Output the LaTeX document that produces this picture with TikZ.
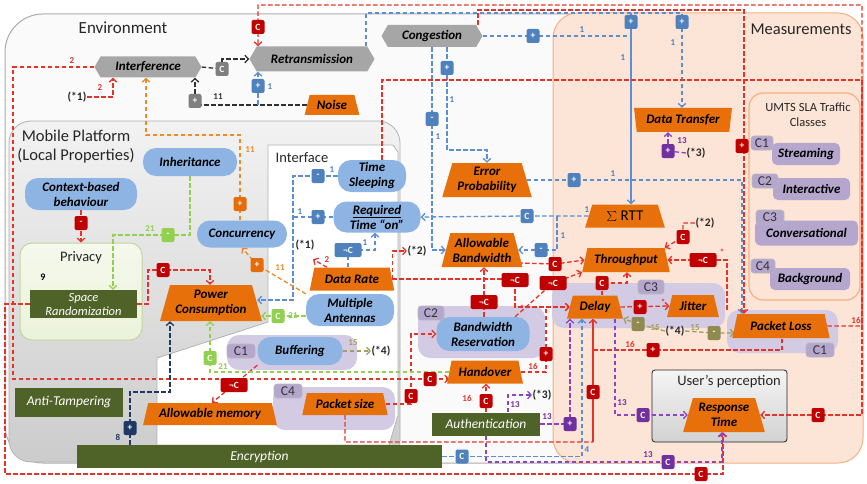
\documentclass[tikz,border=0pt]{standalone}
\usepackage{fontspec}
\setmainfont{Carlito}
\usetikzlibrary{shapes.geometric,shapes.symbols,arrows.meta,calc}
\definecolor{orN}{HTML}{E8700A}
\definecolor{blN}{HTML}{8DB4E2}
\definecolor{grN}{HTML}{A6A6A6}
\definecolor{dgN}{HTML}{4F6228}
\definecolor{lavB}{HTML}{D3CBE3}
\definecolor{lavT}{HTML}{B4A6CC}
\definecolor{msF}{HTML}{FCE4D6}
\definecolor{msD}{HTML}{F4B183}
\definecolor{lnR}{HTML}{E5332A}
\definecolor{tgR}{HTML}{C00000}
\definecolor{lnB}{HTML}{5B8ED2}
\definecolor{tgB}{HTML}{4F81BD}
\definecolor{lnO}{HTML}{F08A24}
\definecolor{tgO}{HTML}{E46C0A}
\definecolor{lnG}{HTML}{92D050}
\definecolor{lnP}{HTML}{8A44C4}
\definecolor{tgP}{HTML}{7030A0}
\definecolor{lnN}{HTML}{1F3864}
\definecolor{lnOl}{HTML}{A39D5E}
\definecolor{tgOl}{HTML}{8F8A50}
\definecolor{lnK}{HTML}{303030}
\definecolor{tgK}{HTML}{7F7F7F}
\definecolor{prF}{HTML}{EBF2DA}
\definecolor{prD}{HTML}{C3D69B}
\pgfdeclarelayer{bg}
\pgfdeclarelayer{edges}
\pgfsetlayers{bg,edges,main}
\tikzset{
  nb/.style={font=\bfseries\itshape\fontsize{13}{15}\selectfont, align=center, inner sep=1pt, text=black},
  sz/.style 2 args={minimum width=#1pt, minimum height=#2pt},
  onode/.style={nb, trapezium, trapezium stretches=true, trapezium left angle=72, trapezium right angle=72, fill=orN},
  bnode/.style={nb, rectangle, rounded corners=13pt, fill=blN},
  gnode/.style={nb, signal, signal to=east and west, signal pointer angle=120, fill=grN},
  dnode/.style={font=\itshape\fontsize{13.5}{14.5}\selectfont, align=center, inner sep=1pt, fill=dgN, text=white},
  tagb/.style={rectangle, rounded corners=2pt, minimum width=13pt, minimum height=14pt, inner sep=0pt, font=\bfseries\fontsize{9.5}{9.5}\selectfont, text=white},
  tR/.style={tagb, fill=tgR}, tB/.style={tagb, fill=tgB}, tK/.style={tagb, fill=tgK},
  tO/.style={tagb, fill=tgO}, tG/.style={tagb, fill=lnG}, tN/.style={tagb, fill=lnN},
  tP/.style={tagb, fill=tgP}, tOl/.style={tagb, fill=tgOl},
  wd/.style={minimum width=27pt},
  ltag/.style={rectangle, rounded corners=3pt, fill=lavT, draw=gray!55, line width=0.6pt, font=\fontsize{13.5}{13.5}\selectfont, text=black!80, inner sep=1pt, minimum height=14pt},
  lav/.style={rectangle, rounded corners=12pt, fill=lavB, inner sep=0pt},
  item/.style={nb, rectangle, rounded corners=5pt, fill=lavT},
  lab/.style={font=\bfseries\fontsize{9}{9}\selectfont, inner sep=0.3pt},
  stl/.style={font=\bfseries\fontsize{11.5}{11.5}\selectfont, inner sep=0.5pt, text=black!85},
  ttl/.style={font=\fontsize{17}{19}\selectfont, text=black!85, align=center},
  ed/.style={line width=1.3pt, dash pattern=on 4.5pt off 2.5pt},
  ar/.style={-{Straight Barb[length=3.5pt,width=7.5pt]}},
  eR/.style={ed, draw=lnR}, eB/.style={ed, draw=lnB}, eO/.style={ed, draw=lnO},
  eG/.style={ed, draw=lnG}, eP/.style={ed, draw=lnP}, eN/.style={ed, draw=lnN},
  eOl/.style={ed, draw=lnOl}, eK/.style={ed, draw=lnK},
}
\begin{document}
\begin{tikzpicture}[x=1pt,y=-1pt]
\useasboundingbox (0,0) rectangle (867,484);
% ---------------- containers
\begin{pgfonlayer}{bg}
\fill[white] (0,0) rectangle (867,484);
\draw[gray!65, line width=1pt, fill=gray!4, rounded corners=38pt] (5,14) rectangle (700,463);
\draw[gray!60, line width=0.8pt, top color=gray!10, bottom color=gray!40, rounded corners=22pt] (9,121) rectangle (400,462);
\draw[gray!60, line width=0.8pt, fill=white] (268,145) -- (393,145) -- (398,152) -- (398,415) -- (389,445) -- (157,445) -- (157,358) -- (268,322) -- cycle;
\draw[msD, line width=1pt, fill=msF, rounded corners=25pt] (553,13) rectangle (863,463);
\draw[msD, line width=1.2pt, fill=msF, rounded corners=14pt] (749,93) rectangle (860,300);
\draw[gray!30!black, line width=0.8pt, top color=gray!8, bottom color=gray!35, rounded corners=3pt] (652,370) rectangle (787,442);
\node[draw=prD, line width=1pt, top color=prF!50!white, bottom color=prF, rounded corners=12pt, sz={122}{97}, inner sep=0pt] (Priv) at (81,291.5) {};
\node[lav, sz={130}{35}] (lBuf) at (292,352.5) {};
\node[lav, sz={122}{43}] (lPS) at (334,408.5) {};
\node[lav, sz={127}{52}] (lBW) at (481.5,332) {};
\node[lav, sz={173}{45}] (lDJ) at (638.5,305.5) {};
\node[lav, sz={111}{43}] (lPL) at (782.5,331.5) {};
\end{pgfonlayer}
% ---------------- titles
\node[ttl] at (123,28) {Environment};
\node[ttl, font=\fontsize{16.5}{18}\selectfont] at (801,29) {Measurements};
\node[ttl, font=\fontsize{16.5}{19}\selectfont] at (76,146.5) {Mobile Platform\\(Local Properties)};
\node[ttl, font=\fontsize{14.5}{15}\selectfont] at (302,158) {Interface};
\node[ttl, font=\fontsize{14.5}{15}\selectfont] at (81,258) {Privacy};
\node[ttl, font=\fontsize{14.5}{15}\selectfont] at (729,382) {User’s perception};
\node[ttl, font=\fontsize{12.5}{15}\selectfont] at (808,114.5) {UMTS SLA Traffic\\Classes};
% ---------------- gray nodes
\node[gnode, sz={107}{21}] (Int) at (148,67) {Interference};
\node[gnode, sz={125}{25}] (Ret) at (312,59) {Retransmission};
\node[gnode, sz={101}{22}] (Cong) at (432,36) {Congestion};
% ---------------- orange nodes
\node[onode, sz={55}{20}] (Noise) at (332,105) {Noise};
\node[onode, sz={98}{24}, trapezium left angle=100, trapezium right angle=100] (DataT) at (683,120) {Data Transfer};
\node[onode, sz={90}{34}] (ErrP) at (487,180) {Error\\Probability};
\node[onode, sz={80}{23}, font=\normalfont\fontsize{15}{15}\selectfont] (RTT) at (625,216) {$\sum$ RTT};
\node[onode, sz={81}{34}] (AllBW) at (482,250) {Allowable\\Bandwidth};
\node[onode, sz={88}{24}] (Thr) at (626,260) {Throughput};
\node[onode, sz={56}{23}] (Delay) at (595,307) {Delay};
\node[onode, sz={52}{22}] (Jitter) at (693,306) {Jitter};
\node[onode, sz={98}{24}] (PLoss) at (781,326) {Packet Loss};
\node[onode, sz={82}{34}] (RespT) at (724,415) {Response\\Time};
\node[onode, sz={85}{23}] (DRate) at (352,279) {Data Rate};
\node[onode, sz={102}{36}] (PowerC) at (211,303) {Power\\Consumption};
\node[onode, sz={76}{23}] (Hand) at (485,372) {Handover};
\node[onode, sz={134}{22}] (AllMem) at (210,414) {Allowable memory};
\node[onode, sz={86}{22}] (PSize) at (345,404) {Packet size};
% ---------------- blue nodes
\node[bnode, sz={112}{32}] (Ctx) at (81,194) {Context-based\\behaviour};
\node[bnode, sz={94}{28}] (Inh) at (190,162) {Inheritance};
\node[bnode, sz={90}{27}] (Conc) at (242,234) {Concurrency};
\node[bnode, sz={68}{32}] (TSleep) at (372,176) {Time\\Sleeping};
\node[bnode, sz={87}{31}] (ReqT) at (377,217) {\underline{Required}\\Time “on”};
\node[bnode, sz={88}{32}] (MAnt) at (350,310) {Multiple\\Antennas};
\node[bnode, sz={85}{28}] (Buff) at (300,351) {Buffering};
\node[bnode, sz={93}{34}] (BWRes) at (483,334) {Bandwidth\\Reservation};
% ---------------- dark green nodes
\node[dnode, sz={107}{28}, font=\itshape\fontsize{12.5}{14}\selectfont] (SpaceR) at (83.5,304) {Space\\Randomization};
\node[dnode, sz={108}{29}] (AntiT) at (69,402) {Anti-Tampering};
\node[dnode, sz={108}{23}] (Auth) at (486,424) {Authentication};
\node[dnode, sz={365}{23}] (Encr) at (259.5,456.5) {Encryption};
% ---------------- UMTS classes
\node[item, sz={68}{22}] (uS) at (806,154) {Streaming};
\node[ltag, minimum width=22pt] (uC1) at (762,143) {C1};
\node[item, sz={77}{22}] (uI) at (811.5,189) {Interactive};
\node[ltag, minimum width=26pt] (uC2) at (765,181) {C2};
\node[item, sz={103}{25}] (uCv) at (806.5,233) {\raisebox{-3pt}{Conversational}};
\node[ltag, minimum width=28pt] (uC3) at (770,217) {C3};
\node[item, sz={80}{22}] (uB) at (810,279) {Background};
\node[ltag, minimum width=24pt] (uC4) at (763,266) {C4};
% group tags
\node[ltag, minimum width=28pt] (gt1) at (241,351) {C1};
\node[ltag, minimum width=28pt] (gt4) at (288,391) {C4};
\node[ltag, minimum width=26pt] (gt2) at (431,313) {C2};
\node[ltag, minimum width=26pt] (gt3) at (651,287) {C3};
\node[ltag, minimum width=28pt] (gt1b) at (820,350) {C1};
% ---------------- tags
\node[tK] (gC1) at (222,69) {C};
\node[tK] (gP1) at (195,101) {+};
\node[tB] (bP1) at (258,86) {+};
\node[tB] (bP2) at (631,22) {+};
\node[tB] (bP3) at (682,22) {+};
\node[tB] (bP4) at (533,36) {+};
\node[tB] (bM1) at (432,119) {-};
\node[tB] (bP5) at (447,68) {+};
\node[tB] (bP6) at (574,180) {+};
\node[tB] (bC1) at (527,216) {C};
\node[tB] (bM2) at (541,250) {-};
\node[tB, wd] (bNC1) at (348,250) {¬C};
\node[tB] (bM3) at (318,176) {-};
\node[tB] (bP7) at (318,217) {+};
\node[tB] (bC2) at (462,456.5) {C};
\node[tR] (rC1) at (258,27) {C};
\node[tR] (rM1) at (81,223) {-};
\node[tR] (rC2) at (163,270) {C};
\node[tR, wd] (rNC1) at (234,385) {¬C};
\node[tR] (rC3) at (411,396) {C};
\node[tR] (rC4) at (593,392) {C};
\node[tR] (rC5) at (486,401) {C};
\node[tR] (rC6) at (430,379) {C};
\node[tR] (rC7) at (701,474) {C};
\node[tR] (rC8) at (818,415) {C};
\node[tR] (rP1) at (742,146) {+};
\node[tR] (rP2) at (653,350) {+};
\node[tR] (rP3) at (546,354) {+};
\node[tR] (rP4) at (640,307) {+};
\node[tR] (rC9) at (602,283) {C};
\node[tR, wd] (rNC2) at (553,283) {¬C};
\node[tR, wd] (rNC3) at (515,280) {¬C};
\node[tR, wd] (rNC4) at (484,302) {¬C};
\node[tR] (rC10) at (555,264) {C};
\node[tR] (rC11) at (683,237) {C};
\node[tR, wd] (rNC5) at (703,260) {¬C};
\node[tO] (oP1) at (257,265) {+};
\node[tO] (oP2) at (240,204) {+};
\node[tG] (gM1) at (168,235) {-};
\node[tG] (gC2) at (278,316) {C};
\node[tG] (gC3) at (210,358) {C};
\node[tN] (nP1) at (130,428) {+};
\node[tP] (pP1) at (668,151) {+};
\node[tP] (pP2) at (570,424) {+};
\node[tP] (pC1) at (643,415) {C};
\node[tP] (pC2) at (668,462) {C};
\node[tOl] (olC) at (638,324) {-};
\node[tOl] (olM) at (714,333) {-};
% ---------------- labels
\node[lab, text=lnR] at (72,61) {2};
\node[lab, text=lnR] at (100,88) {2};
\node[stl] (st1a) at (77,97) {(*1)};
\node[lab, text=lnK] at (218,97) {11};
\node[lab, text=tgB] at (270,87) {1};
\node[lab, text=tgB] at (582,30) {1};
\node[lab, text=tgB] at (623,58) {1};
\node[lab, text=tgB] at (673,43) {1};
\node[lab, text=tgB] at (438,137) {1};
\node[lab, text=tgB] at (452,100) {1};
\node[lab, text=tgB] at (613,174) {1};
\node[lab, text=tgB] at (587,210) {1};
\node[lab, text=tgB] at (563,236) {1};
\node[lab, text=tgB] at (365,243) {1};
\node[lab, text=tgB] at (332,170) {1};
\node[lab, text=tgB] at (300,212) {1};
\node[stl] (st1b) at (305,245) {(*1)};
\node[lab, text=lnR] at (327,260) {2};
\node[stl] (st2a) at (417,251) {(*2)};
\node[stl] (st2b) at (705,223) {(*2)};
\node[lab, text=lnO] at (280,268) {11};
\node[lab, text=lnO] at (250,150) {11};
\node[lab, text=lnG] at (150,229) {21};
\node[lab, text=lnG] at (293,316) {21};
\node[lab, text=lnG] at (223,367) {21};
\node[lab, text=lnN] at (118,437) {8};
\node[lab, text=lnOl] at (353,343) {15};
\node[stl] (st4a) at (381,351) {(*4)};
\node[lab, text=lnR] at (467,398) {16};
\node[lab, text=tgP] at (515,405) {13};
\node[stl] (st3a) at (542,395) {(*3)};
\node[lab, text=tgP] at (547,417) {13};
\node[lab, text=tgB] at (587,450) {4};
\node[lab, text=tgP] at (622,403) {13};
\node[lab, text=tgP] at (648,455) {13};
\node[lab, text=lnR] at (533,366) {16};
\node[lab, text=lnR] at (630,344) {16};
\node[lab, text=lnR] at (856,320) {16};
\node[lab, text=tgP] at (682,141) {13};
\node[stl] (st3b) at (696,153) {(*3)};
\node[lab, font=\bfseries\fontsize{10}{10}\selectfont] at (43,277) {9};
\node[lab, text=lnR] at (722,252) {*};
\node[lab, text=lnR] at (663,302) {*};
\node[lab, text=lnR] at (522,308) {*};
\node[lab, text=lnOl] at (655,328) {15};
\node[stl] (st4b) at (675,331) {(*4)};
\node[lab, text=lnOl] at (695,328) {15};
% ---------------- edges
\begin{pgfonlayer}{edges}
% black
\draw[eK] (Int.east) -- (gC1.center);
\draw[eK,ar] (gC1.center) |- (Ret.west);
\draw[eK] (Noise.west) -- (Noise.west -| gP1) -- (gP1.center);
\draw[eK,ar] (gP1.center) -- (Int.south -| gP1);
% blue
\draw[eB,ar] (Noise.west -| bP1) -- (Ret.south -| bP1);
\draw[eB,ar] (Ret.north -| 366,0) -- (366,13) -| (DataT.north -| bP3);
\draw[eB] (bP2 |- 0,13) -- (bP2.center);
\draw[line width=1.3pt, draw=lnB, ar] (bP2.center) -- (RTT.north -| bP2);
\draw[eB] (Cong.east) -- (Cong.east -| bP2);
\draw[eB,ar] (Cong.south -| bP5) -- (bP5 |- 0,150) -| (ErrP.north);
\draw[eB,ar] (Cong.south -| bM1) |- (AllBW.west);
\draw[eB,ar] (ErrP.east) -- (ErrP.east -| 742,0) -- (PLoss.north -| 742,0);
\draw[eB] (RTT.west) -- (bC1.center);
\draw[eB,ar] (bC1.center) -- (ReqT.east);
\draw[eB,ar] (RTT.west -| 557,0) |- (AllBW.east);
\draw[eB,ar] (TSleep.west) -- (TSleep.west -| 293,0) -- (293,300) -- (PowerC.east |- 0,300);
\draw[eB] (ReqT.west) -- (ReqT.west -| 293,0);
\draw[eB,ar] (DRate.north -| bNC1) -- (bNC1.center) -- (bNC1 -| 375,0) -- (ReqT.south -| 375,0);
\draw[eB,ar] (Encr.east) -- (Encr.east -| 582,0) -- (Delay.south -| 582,0);
% red
\draw[eR,ar] (Int.west) -- (13,67) -- (13,379) -- (Hand.west |- rC6);
\draw[eR,ar] (st1a.east) -| (Int.south -| 113,0);
\draw[eR,ar] (Ctx.south) -- (Priv.north);
\draw[eR,ar] (SpaceR.east) -- (148,304) -- (148,270) -- (210,270) -- (PowerC.north -| 210,0);
\draw[eR,ar] (SpaceR.west) -- (5,304) -- (5,474) -| (RespT.south -| 723,0);
\draw[eR,ar] (Buff.south west) -- (AllMem.north -| 212,0);
\draw[eR,ar] (PSize.east) -- (PSize.east -| rC3) |- (BWRes.west);
\draw[eR] (PSize.south) -- (345,442) -- (593,442);
\draw[line width=1.3pt, draw=lnR, ar] (593,442) -- (Delay.south -| 593,0);
\draw[eR] (593,350) -- (782,350) -- (PLoss.south -| 782,0);
\draw[eR,ar] (Auth.north -| rC5) -- (Hand.south -| rC5);
\draw[eR,ar] (BWRes.north -| rNC4) -- (AllBW.south -| rNC4);
\draw[eR,ar] (BWRes.north -| 515,0) -- (rNC2.center) -- (Thr.bottom left corner);
\draw[eR,ar] (DRate.east) -- (rNC3 |- DRate.east) -- (rNC3 |- Delay.west) -- (Delay.west);
\draw[eR,ar] (Hand.east) -| (rP3.center) |- (Delay.west);
\draw[eR,ar] (AllBW.east |- 0,263) -- (rC10.center) -- (Thr.west);
\draw[eR,ar] (Delay.north -| rC9) -- (rC9.center) -| (Thr.south -| 627,0);
\draw[eR,ar] (lPL.north -| 727,0) |- (Thr.east);
\draw[eR,ar] (st2b.west) -| (rC11.center) -- (Thr.top right corner);
\draw[eR,ar] (Delay.east) -- (Jitter.west);
\draw[eR,ar] (DRate.north -| 327,0) -- ++(-14,-8);
\draw[eR,ar] (DRate.east) |- (st2a.west);
\draw[eR,ar] (Cong.north -| 478,0) -- (478,10) -| (PLoss.north -| 744,0);
\draw[eR,ar] (PLoss.east) -- (862,326) -- (862,5) -| (Ret.north -| rC1);
\draw[eR,ar] (TSleep.north -| 382,0) |- (862,80) -- (862,415) -- (RespT.east);
% orange
\draw[eO,ar] (Conc.north -| oP2) -- (oP2 |- 0,135) -| (Int.south -| 146,0);
\draw[eO,ar] (MAnt.north west) -- (oP1.center) -- (Conc.south);
% green
\draw[eG,ar] (Inh.south) -- (Inh.south |- 0,235) -- (113,235) -- (SpaceR.north -| 113,0);
\draw[eG,ar] (MAnt.west |- gC2) -- ($(PowerC.east |- gC2)+(4,0)$);
\draw[eG,ar] (Hand.west) -- (Hand.west -| gC3) -- (PowerC.south -| gC3);
% navy
\draw[eN,ar] (Encr.north -| nP1) -- (nP1 |- 0,392) -| (PowerC.south -| 170,0);
% purple
\draw[eP] (st3b.west) -- (pP1.center);
\draw[eP,ar] (pP1.center) -- (DataT.south -| pP1);
\draw[eP,ar] (Auth.north -| 508,0) |- (st3a.west);
\draw[eP,ar] (Auth.east) -- (Auth.east -| pP2) -- (Delay.south -| pP2);
\draw[eP,ar] (Auth.south) -- (Auth.south |- 0,462) -| (RespT.south -| 722,0);
\draw[eP,ar] (Delay.south -| 615,0) |- (RespT.west);
% olive
\draw[eOl,ar] (Buff.east) -- (st4a.west);
\draw[eOl,ar] (st4b.west) -- (olC.center) -- (Delay.bottom right corner);
\draw[eOl,ar] (st4b.east) -- (olM.center) -- (olM -| PLoss.west);
\end{pgfonlayer}
\end{tikzpicture}
\end{document}
